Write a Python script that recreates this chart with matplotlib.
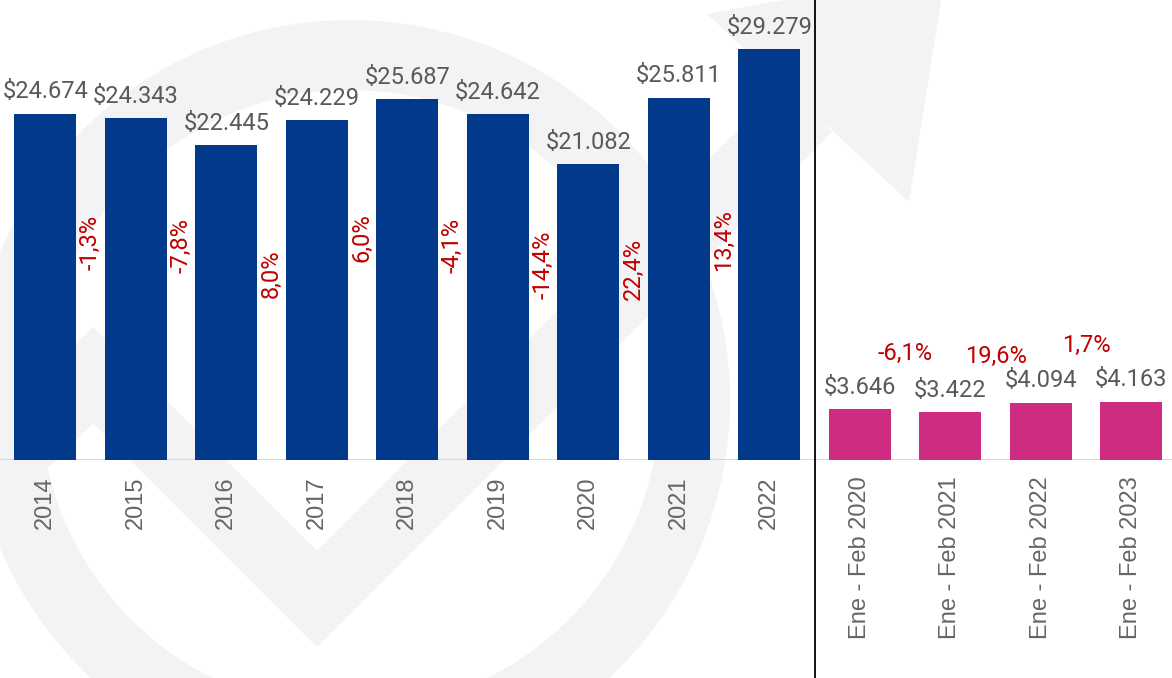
import numpy as np
import matplotlib.pyplot as plt
from matplotlib.patches import Wedge, Polygon

# data
categories = ["2014", "2015", "2016", "2017", "2018", "2019", "2020", "2021", "2022",
              "Ene - Feb 2020", "Ene - Feb 2021", "Ene - Feb 2022", "Ene - Feb 2023"]
values = [24674, 24343, 22445, 24229, 25687, 24642, 21082, 25811, 29279,
          3646, 3422, 4094, 4163]
value_labels = ["$24.674", "$24.343", "$22.445", "$24.229", "$25.687", "$24.642",
                "$21.082", "$25.811", "$29.279", "$3.646", "$3.422", "$4.094", "$4.163"]
annual_change = ["-1,3%", "-7,8%", "8,0%", "6,0%", "-4,1%", "-14,4%", "22,4%", "13,4%"]
ytd_change = ["-6,1%", "19,6%", "1,7%"]
n_years = 9

# label placement (data units)
annual_change_y = [15460, 15310, 13250, 15810, 15310, 13890, 13600, 15670]
ytd_change_y = [7120, 6900, 7700]

navy = "#03398a"
magenta = "#cd2c80"
grey_txt = "#595959"
red_txt = "#c00000"
wm = "#f3f3f5"

fig = plt.figure(figsize=(11.72, 6.78), dpi=100)

# faint watermark in pixel coordinates
bg = fig.add_axes([0, 0, 1, 1], zorder=0)
bg.set_xlim(0, 1172)
bg.set_ylim(678, 0)
bg.axis("off")
bg.add_patch(Wedge((350, 400), 380, 0, 360, width=70, color=wm, lw=0))
bg.plot([-100, 93, 317, 808], [568, 375, 599, 108], color=wm, lw=49,
        solid_joinstyle="miter", solid_capstyle="butt")
bg.add_patch(Polygon([(707, 14), (909, 202), (946, -30)], closed=True, color=wm, lw=0))

ax = fig.add_axes([0, 218 / 678, 1, 460 / 678], zorder=1)
ax.patch.set_alpha(0)

x = np.arange(len(categories))
colors = [navy] * n_years + [magenta] * (len(categories) - n_years)
ax.bar(x, values, width=0.685, color=colors, zorder=2)

for i, (v, lab) in enumerate(zip(values, value_labels)):
    ax.annotate(lab, (i, v), xytext=(0, 11), textcoords="offset points",
                ha="center", va="baseline", fontsize=17, color=grey_txt,
                family="Roboto")

for i, (lab, y) in enumerate(zip(annual_change, annual_change_y)):
    ax.text(i + 0.5, y, lab, rotation=90, ha="center", va="center",
            fontsize=17, color=red_txt, family="Roboto", zorder=3)

for i, (lab, y) in enumerate(zip(ytd_change, ytd_change_y)):
    ax.text(n_years + i + 0.5, y, lab, ha="center", va="baseline",
            fontsize=17, color=red_txt, family="Roboto", zorder=3)

ax.axhline(0, color="#d9d9d9", lw=1.5, zorder=1)
ax.axvline(n_years - 0.5, ymin=-218 / 460, ymax=1, color="black", lw=1.3,
           clip_on=False, zorder=3)

ax.set_xlim(-0.5, 12.45)
ax.set_ylim(0, 32760)
ax.set_xticks(x)
ax.set_xticklabels(categories, rotation=90, va="top", ha="center")
for t in ax.get_xticklabels():
    t.set_fontfamily("Liberation Sans")
ax.tick_params(axis="x", length=0, pad=12, labelsize=17, labelcolor="#666666")
ax.set_yticks([])
for s in ax.spines.values():
    s.set_visible(False)

fig.savefig("out.png", dpi=100)
